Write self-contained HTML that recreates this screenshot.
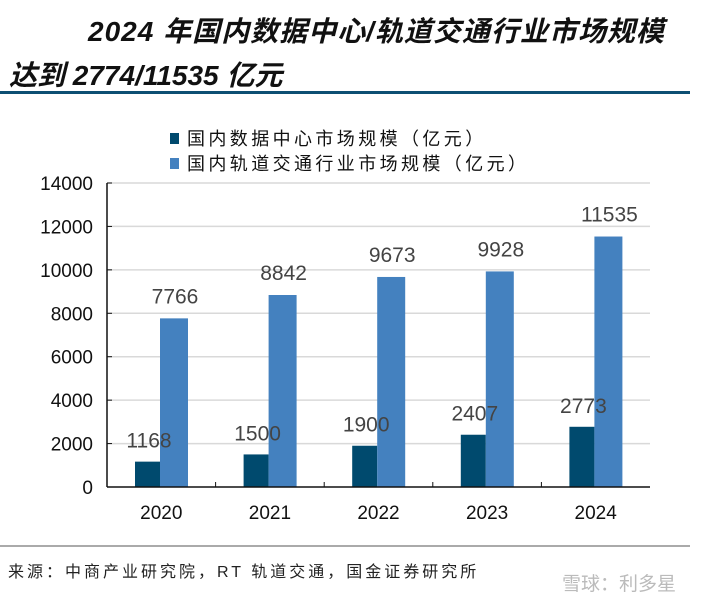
<!DOCTYPE html>
<html><head><meta charset="utf-8"><style>
body{margin:0;width:701px;height:607px;background:#fff;overflow:hidden;position:relative;font-family:"Liberation Sans","Noto Sans CJK SC",sans-serif}
.t{position:absolute;font-style:italic;font-weight:bold;font-size:28px;color:#111;white-space:nowrap}
</style></head><body>
<div class="t" style="left:88px;top:10px;letter-spacing:1px">2024 年国内数据中心/轨道交通行业市场规模</div>
<div class="t" style="left:9px;top:54px">达到 2774/11535 亿元</div>
<div style="position:absolute;left:0;top:91px;width:690px;height:3px;background:#0d4f73"></div>
<svg width="701" height="607" style="position:absolute;left:0;top:0">
<g id="legend"></g><g id="grid"></g><g id="bars"></g><g id="axes"></g>
<line x1="0" y1="546" x2="690" y2="546" stroke="#555" stroke-width="1"/>
<text x="8" y="577" font-size="16" letter-spacing="3" fill="#222" font-family="Liberation Sans,Noto Sans CJK SC,sans-serif">来源：中商产业研究院，RT 轨道交通，国金证券研究所</text>
<text x="562" y="590" font-size="19" fill="#bbb" font-family="Liberation Sans,Noto Sans CJK SC,sans-serif">雪球：利多星</text>
</svg>
<script>
const categories=["2020","2021","2022","2023","2024"];
const dataCenter=[1168,1500,1900,2407,2773];
const railTransit=[7766,8842,9673,9928,11535];
const yTicks=[0,2000,4000,6000,8000,10000,12000,14000];
const seriesNames=["国内数据中心市场规模（亿元）","国内轨道交通行业市场规模（亿元）"];
const colors=["#004a6e","#4481bf"];
const NS="http://www.w3.org/2000/svg";
const x0=107,x1=650,y0=487,yTop=183,yMax=14000;
const bw=(x1-x0)/categories.length;
const y=v=>y0-(v/yMax)*(y0-yTop);
function mk(tag,attrs,parent,txt){const e=document.createElementNS(NS,tag);for(const k in attrs)e.setAttribute(k,attrs[k]);if(txt!=null)e.textContent=txt;document.getElementById(parent).appendChild(e);return e;}
const F="Liberation Sans,Noto Sans CJK SC,sans-serif";
yTicks.forEach(t=>{
 if(t>0){const g=mk('line',{x1:x0,x2:x1,y1:y(t),y2:y(t),stroke:'#d9d9d9','stroke-width':1.5},'grid');
 
 }
 const l=mk('text',{x:x0-14,y:y(t)+7,'text-anchor':'end','font-size':19,fill:'#111','font-family':F},'axes',t);
 
 
 const tk=mk('line',{x1:x0,x2:x0+5,y1:y(t),y2:y(t),stroke:'#111'},'axes');
 
 
});
const ya=mk('line',{x1:x0,x2:x0,y1:yTop,y2:y0,stroke:'#111','stroke-width':1.5},'axes');


const xa=mk('line',{x1:x0,x2:x1,y1:y0,y2:y0,stroke:'#111','stroke-width':1.5},'axes');


categories.forEach((c,i)=>{
 const s=x0+i*bw;
 if(i>0){const tk=mk('line',{x1:s,x2:s,y1:y0-5,y2:y0,stroke:'#111'},'axes');
 
 }
 const lab=mk('text',{x:s+bw/2,y:519,'text-anchor':'middle','font-size':19,fill:'#111','font-family':F},'axes',c);
 
 
 const b1=mk('rect',{x:s+28,y:y(dataCenter[i]),width:25,height:y0-y(dataCenter[i]),fill:colors[0]},'bars');
 
 
 const b2=mk('rect',{x:s+53,y:y(railTransit[i]),width:28,height:y0-y(railTransit[i]),fill:colors[1]},'bars');
 
 
 const v1=mk('text',{x:s+42,y:y(dataCenter[i])-14,'text-anchor':'middle','font-size':21,fill:'#444','font-family':F},'bars',dataCenter[i]);
 
 
 const v2=mk('text',{x:s+68,y:y(railTransit[i])-15,'text-anchor':'middle','font-size':21,fill:'#444','font-family':F},'bars',railTransit[i]);
 
 
});
seriesNames.forEach((n,i)=>{
 const sq=mk('rect',{x:170,y:133+i*25,width:9,height:11,fill:colors[i]},'legend');
 
 
 const t=mk('text',{x:187,y:145+i*25,'font-size':18,fill:'#111','font-family':F,'letter-spacing':'3.4'},'legend',n);
 
 
});
</script>
</body></html>
